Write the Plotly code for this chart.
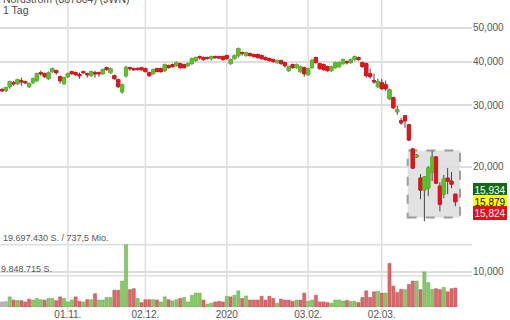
import math
import pandas as pd
import plotly.graph_objects as go

# ---------------- data ----------------
HOLIDAYS = ["2019-11-28", "2019-12-25", "2020-01-01", "2020-01-20", "2020-02-17"]
DATES = [d.strftime("%Y-%m-%d") for d in
         pd.bdate_range("2019-10-09", "2020-03-27", freq="C", holidays=HOLIDAYS)]

OPEN = [33.24, 33.02, 33.90, 34.81, 34.58, 35.27, 35.04, 33.90, 34.81, 35.27,
        37.19, 36.94, 35.74, 37.44, 37.68, 36.22, 34.58, 36.22, 37.44, 37.19,
        36.70, 37.44, 36.94, 36.46, 37.19, 37.19, 36.94, 38.44, 37.19, 36.46,
        35.51, 32.80, 36.46, 38.44, 38.19, 38.25, 38.44, 38.19, 37.19, 36.94,
        38.19, 38.19, 37.68, 38.95, 39.21, 38.95, 39.48, 39.21, 38.95, 39.48,
        40.27, 41.35, 41.07, 41.07, 40.80, 41.35, 41.30, 41.35, 41.62, 39.48,
        40.80, 41.62, 42.46, 41.62, 42.18, 41.90, 41.90, 41.62, 41.07, 40.80,
        40.53, 39.74, 40.27, 39.74, 37.68, 39.21, 38.44, 37.44, 38.44, 36.70,
        38.44, 41.07, 39.48, 39.21, 38.70, 37.68, 38.44, 38.70, 39.48, 40.00,
        39.74, 40.53, 41.07, 39.74, 39.48, 36.94, 35.27, 33.90, 34.81, 34.35,
        31.31, 31.52, 28.73, 27.07, 27.98, 26.36, 22.48, 21.32, 18.55, 17.14,
        17.37, 19.31, 21.32, 17.60, 16.69, 18.55, 18.19, 16.69]
HIGH = [33.68, 33.90, 35.27, 35.27, 35.74, 35.98, 35.27, 34.81, 35.98, 37.19,
        37.68, 37.19, 37.44, 38.44, 37.93, 36.46, 36.22, 37.19, 37.68, 37.44,
        37.19, 37.68, 37.19, 37.68, 37.68, 37.44, 38.19, 38.70, 38.44, 36.70,
        35.74, 34.58, 38.95, 38.70, 38.44, 38.50, 38.44, 38.44, 37.44, 38.19,
        38.44, 38.44, 39.48, 39.21, 39.48, 40.00, 39.74, 39.48, 39.74, 41.07,
        41.35, 41.62, 41.35, 41.35, 41.62, 41.62, 41.55, 41.62, 41.90, 40.80,
        41.90, 43.89, 42.74, 42.74, 42.46, 42.18, 42.18, 41.90, 41.35, 41.07,
        40.80, 40.53, 40.53, 40.00, 38.95, 39.48, 39.48, 38.95, 38.70, 38.44,
        40.80, 41.35, 39.74, 39.48, 38.95, 38.95, 40.00, 40.00, 40.80, 40.27,
        40.80, 41.62, 41.35, 40.00, 39.74, 38.19, 36.94, 35.74, 35.74, 35.27,
        33.46, 31.73, 29.89, 27.61, 27.98, 26.54, 22.63, 21.75, 19.05, 18.80,
        20.09, 22.19, 21.46, 18.07, 18.93, 19.82, 19.31, 16.69]
LOW = [32.80, 32.80, 33.46, 34.13, 34.35, 34.13, 34.58, 33.68, 34.58, 35.04,
       36.46, 35.98, 35.51, 37.19, 36.70, 34.58, 34.35, 35.98, 36.70, 36.46,
       35.74, 36.94, 35.98, 36.22, 35.98, 36.22, 36.70, 37.68, 36.94, 35.51,
       33.68, 32.37, 35.98, 37.68, 37.68, 37.70, 37.68, 37.40, 36.22, 36.70,
       37.40, 37.19, 37.44, 38.19, 38.44, 38.70, 38.19, 38.19, 38.70, 39.21,
       40.00, 40.53, 40.27, 40.53, 40.27, 40.80, 40.85, 40.27, 40.53, 39.21,
       40.53, 41.07, 41.62, 41.35, 41.35, 41.07, 40.80, 40.53, 40.27, 40.00,
       39.74, 39.48, 39.21, 38.44, 37.44, 38.19, 38.19, 37.19, 36.22, 36.46,
       38.19, 39.48, 37.93, 37.68, 37.44, 37.44, 38.19, 38.44, 39.21, 39.21,
       39.48, 40.27, 40.27, 38.44, 35.98, 35.74, 34.58, 33.68, 33.24, 33.02,
       31.10, 29.30, 28.16, 26.36, 25.85, 23.70, 19.69, 21.18, 16.14, 13.96,
       16.47, 18.19, 17.83, 14.91, 16.25, 16.69, 17.37, 15.41]
CLOSE = [33.02, 33.68, 35.04, 34.58, 35.51, 35.04, 34.81, 34.58, 35.74, 36.94,
         36.94, 36.22, 37.19, 38.19, 37.19, 35.27, 35.98, 36.94, 36.94, 36.70,
         36.46, 37.19, 36.70, 37.44, 36.94, 36.94, 37.93, 37.93, 38.19, 35.74,
         33.90, 34.35, 38.44, 38.19, 37.93, 38.00, 37.93, 37.44, 36.46, 37.93,
         37.44, 37.44, 39.21, 38.44, 38.70, 39.74, 38.44, 38.44, 39.48, 40.80,
         41.07, 41.07, 40.53, 40.94, 41.35, 41.07, 41.00, 40.53, 40.80, 40.53,
         41.62, 43.60, 42.18, 42.46, 41.62, 41.35, 41.07, 40.80, 40.53, 40.27,
         40.00, 40.27, 39.48, 38.95, 38.70, 38.44, 39.21, 38.70, 36.94, 38.19,
         40.27, 39.74, 38.19, 37.93, 37.68, 38.70, 39.74, 39.74, 40.53, 39.74,
         40.53, 41.35, 40.53, 38.70, 36.46, 36.22, 35.04, 35.04, 33.46, 33.46,
         33.24, 29.50, 29.11, 26.71, 27.07, 23.86, 19.82, 21.60, 17.14, 18.68,
         19.82, 21.32, 17.95, 15.62, 18.43, 18.19, 17.83, 15.879]
VOLUME_M = [1.6, 1.7, 3.2, 2.2, 2.0, 2.0, 1.6, 2.5, 2.2, 2.7,
            2.3, 2.2, 2.7, 2.7, 2.0, 3.2, 2.7, 1.6, 2.2, 3.2,
            1.8, 1.6, 2.3, 2.3, 4.2, 2.2, 2.2, 3.0, 3.0, 5.3,
            5.3, 8.2, 19.69743, 5.5, 5.8, 2.7, 1.4, 2.3, 2.3, 2.3,
            2.2, 1.6, 3.2, 2.3, 1.9, 2.3, 2.7, 3.0, 1.6, 3.7,
            4.4, 4.4, 2.2, 0.9, 1.2, 1.6, 1.8, 1.6, 3.4, 3.2,
            3.7, 5.1, 2.7, 3.5, 2.2, 2.2, 2.2, 3.4, 2.2, 3.4,
            2.7, 1.2, 2.5, 2.2, 2.2, 1.8, 2.2, 2.2, 4.4, 1.8,
            2.2, 3.7, 1.6, 1.6, 1.4, 1.2, 2.2, 2.2, 1.9, 2.1,
            1.8, 1.8, 1.4, 3.0, 5.1, 3.0, 4.8, 5.0, 4.4, 4.4,
            13.8, 6.6, 4.6, 5.6, 5.5, 7.1, 8.2, 8.2, 5.5, 11.1,
            7.7, 5.6, 5.8, 5.5, 6.2, 4.8, 5.8, 6.0]
MAX_TURNOVER_MIO = 737.5

PRICE_TICKS = [10, 20, 30, 40, 50, 60]
X_TICK_DATES = ["2019-11-01", "2019-12-02", "2020-01-02", "2020-02-03", "2020-03-02"]
X_TICK_TEXT = ["01.11.", "02.12.", "2020", "03.02.", "02.03."]

TITLE = "Nordstrom (867804) (JWN)"
PERIOD = "1 Tag"
QUOTE_BID = 15.934
QUOTE_LAST = 15.879
QUOTE_ASK = 15.824
HIGHLIGHT_X = (104.7, 118.2)      # highlighted area (category index units)
HIGHLIGHT_Y = (14.31, 22.27)      # highlighted area (price)

# ---------------- helpers ----------------
def de3(v):
    return f"{v:.3f}".replace(".", ",")

def de1(v):
    return f"{v:.1f}".replace(".", ",")

def de_int(n):
    return f"{n:,}".replace(",", ".")

FONT = "Arial, 'Liberation Sans', sans-serif"
GREEN = "#5cc12a"
RED = "#e5141c"
WICK = "#444444"
GRID = "#dedede"
TXT = "#555555"

body_hi = [max(o, c) for o, c in zip(OPEN, CLOSE)]
body_lo = [min(o, c) for o, c in zip(OPEN, CLOSE)]

vol_colors, vol_edges = [], []
for i, c in enumerate(CLOSE):
    if i < 2:
        vol_colors.append("#b5b5b5"); vol_edges.append("#9a9a9a")
    elif c >= CLOSE[i - 1]:
        vol_colors.append("#86c966"); vol_edges.append("#62a843")
    else:
        vol_colors.append("#d9696c"); vol_edges.append("#bd4a4e")

vmax = max(VOLUME_M)
vhalf = vmax / 2

fig = go.Figure()
fig.add_trace(go.Bar(x=DATES, y=VOLUME_M, yaxis="y2",
                     marker=dict(color=vol_colors, line=dict(color=vol_edges, width=0.5)),
                     hoverinfo="skip", showlegend=False))
fig.add_trace(go.Candlestick(x=DATES, open=OPEN, high=HIGH, low=LOW, close=CLOSE,
                             increasing=dict(line=dict(color=WICK, width=1), fillcolor=WICK),
                             decreasing=dict(line=dict(color=WICK, width=1), fillcolor=WICK),
                             whiskerwidth=0, hoverinfo="skip", showlegend=False))
fig.add_trace(go.Candlestick(x=DATES, open=OPEN, high=body_hi, low=body_lo, close=CLOSE,
                             increasing=dict(line=dict(color=GREEN, width=1), fillcolor=GREEN),
                             decreasing=dict(line=dict(color=RED, width=1), fillcolor=RED),
                             whiskerwidth=0, hoverinfo="skip", showlegend=False))

shapes = [
    dict(type="rect", xref="x", yref="y", layer="below",
         x0=HIGHLIGHT_X[0], x1=HIGHLIGHT_X[1], y0=HIGHLIGHT_Y[0], y1=HIGHLIGHT_Y[1],
         fillcolor="#e2e2e2", line=dict(color="#9c9c9c", width=2, dash="dash")),
    dict(type="line", xref="paper", yref="y2", x0=0, x1=1, y0=vmax, y1=vmax,
         line=dict(color=GRID, width=1.5), layer="below"),
    dict(type="line", xref="paper", yref="y2", x0=0, x1=1, y0=vhalf, y1=vhalf,
         line=dict(color=GRID, width=1.5), layer="below"),
]
# vertical date grid lines, reaching slightly below the plot area
for d in X_TICK_DATES:
    shapes.append(dict(type="line", xref="x", yref="paper", x0=d, x1=d, y0=-0.018, y1=1,
                       line=dict(color=GRID, width=1.5), layer="below"))

fig.update_layout(
    width=510, height=320,
    margin=dict(l=0, r=38, t=0, b=13),
    paper_bgcolor="white", plot_bgcolor="white",
    font=dict(family=FONT, size=10, color=TXT),
    boxgap=0.2, boxgroupgap=0, bargap=0.2,
    xaxis=dict(type="category", range=[-0.516, 121.29], automargin=False,
               tickvals=X_TICK_DATES, ticktext=X_TICK_TEXT,
               showgrid=False, ticks="",
               tickfont=dict(size=10, color=TXT),
               showline=False, zeroline=False, rangeslider=dict(visible=False)),
    yaxis=dict(type="log", range=[math.log10(7.93), math.log10(60.05)], automargin=False,
               side="right", tickvals=PRICE_TICKS, ticktext=[de3(v) for v in PRICE_TICKS],
               showgrid=True, gridcolor=GRID, gridwidth=1.5, ticks="",
               tickfont=dict(size=10, color=TXT), showline=False, zeroline=False),
    yaxis2=dict(overlaying="y", range=[0, vmax * 307 / 62.3], visible=False),
    shapes=shapes,
)

ann = []
ann.append(dict(text=TITLE, xref="paper", yref="paper", x=0, y=1, xanchor="left",
                yanchor="middle", xshift=1, yshift=1, showarrow=False,
                font=dict(size=10.5, color="#4a4a4a")))
ann.append(dict(text=PERIOD, xref="paper", yref="paper", x=0, y=1, xanchor="left",
                yanchor="middle", xshift=1, yshift=-10, showarrow=False,
                font=dict(size=10.5, color="#4a4a4a")))
ann.append(dict(text=f"{de_int(round(vmax * 1e6))} S. / {de1(MAX_TURNOVER_MIO)} Mio.",
                xref="paper", yref="y2", x=0, y=vmax, xanchor="left", yanchor="bottom",
                xshift=1, showarrow=False, font=dict(size=9, color=TXT)))
ann.append(dict(text=f"{de_int(round(vhalf * 1e6))} S.",
                xref="paper", yref="y2", x=0, y=vhalf, xanchor="left", yanchor="bottom",
                xshift=-1, showarrow=False, font=dict(size=9, color=TXT)))
for val, shift, bg, fg in [(QUOTE_BID, 11.5, "#0f6a12", "white"),
                           (QUOTE_LAST, 0, "#ffff00", "black"),
                           (QUOTE_ASK, -11.5, "#e2101a", "white")]:
    ann.append(dict(text=de3(val), xref="paper", yref="y", x=1, y=math.log10(QUOTE_LAST),
                    xanchor="left", yanchor="middle", xshift=1, yshift=shift,
                    showarrow=False, bgcolor=bg, bordercolor=bg, borderpad=0.5,
                    font=dict(size=10, color=fg)))
fig.update_layout(annotations=ann)

fig.write_html("out.html")
